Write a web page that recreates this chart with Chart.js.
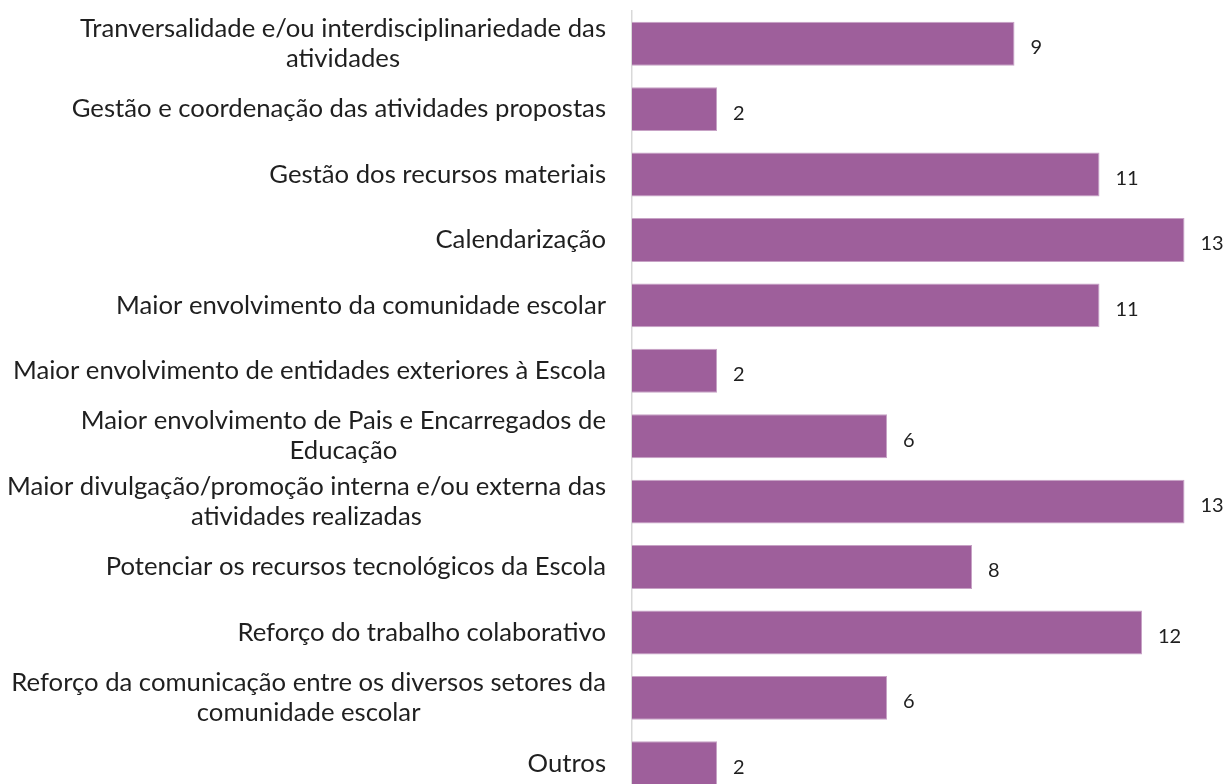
<!DOCTYPE html>
<html>
<head>
<meta charset="utf-8">
<script src="https://cdn.jsdelivr.net/npm/chart.js@4"></script>
<style>
  html, body { margin: 0; padding: 0; background: #fff; overflow: hidden; }
  #wrap { width: 1228px; height: 800px; }
</style>
</head>
<body>
<div id="wrap"><canvas id="chart"></canvas></div>
<script>
// categorias (de cima para baixo)
const categories = [
    ['Tranversalidade e/ou interdisciplinariedade das', 'atividades'],
    ['Gestão e coordenação das atividades propostas'],
    ['Gestão dos recursos materiais'],
    ['Calendarização'],
    ['Maior envolvimento da comunidade escolar'],
    ['Maior envolvimento de entidades exteriores à Escola'],
    ['Maior envolvimento de Pais e Encarregados de', 'Educação'],
    ['Maior divulgação/promoção interna e/ou externa das', 'atividades realizadas'],
    ['Potenciar os recursos tecnológicos da Escola'],
    ['Reforço do trabalho colaborativo'],
    ['Reforço da comunicação entre os diversos setores da', 'comunidade escolar'],
    ['Outros']
];
const counts = [9, 2, 11, 13, 11, 2, 6, 13, 8, 12, 6, 2];

const labelFont = '25.7px Lato';
const labelLineHeight = 30;

// rótulos do eixo, centrados linha a linha e alinhados à direita como bloco
const axisLabels = {
    id: 'axisLabels',
    afterDraw(chart) {
        const ctx = chart.ctx;
        const yScale = chart.scales.y;
        const rightEdge = yScale.right - 26;
        ctx.save();
        ctx.font = labelFont;
        ctx.fillStyle = '#1f1f1f';
        ctx.textAlign = 'center';
        ctx.textBaseline = 'middle';
        categories.forEach((lines, i) => {
            const y = yScale.getPixelForTick(i);
            const widest = Math.max(...lines.map(l => ctx.measureText(l).width));
            const cx = rightEdge - widest / 2;
            const top = y - (lines.length - 1) * labelLineHeight / 2;
            lines.forEach((l, j) => ctx.fillText(l, cx, top + j * labelLineHeight));
        });
        ctx.restore();
    }
};

// valores à direita das barras
const valueLabels = {
    id: 'valueLabels',
    afterDatasetsDraw(chart) {
        const ctx = chart.ctx;
        const meta = chart.getDatasetMeta(0);
        ctx.save();
        ctx.font = '20px Lato';
        ctx.fillStyle = '#1f1f1f';
        ctx.textAlign = 'left';
        ctx.textBaseline = 'middle';
        meta.data.forEach((bar, i) => {
            ctx.fillText(String(counts[i]), bar.x + 16, bar.y + 4);
        });
        ctx.restore();
    }
};

const ctx = document.getElementById('chart').getContext('2d');
new Chart(ctx, {
    type: 'bar',
    data: {
        labels: categories.map(l => l.join(' ')),
        datasets: [{
            data: counts,
            backgroundColor: '#9E5F9B',
            borderColor: '#C7A2C5',
            borderWidth: 1,
            categoryPercentage: 1,
            barPercentage: 0.672
        }]
    },
    options: {
        indexAxis: 'y',
        responsive: true,
        maintainAspectRatio: false,
        animation: false,
        layout: { padding: { top: 11, bottom: 4, left: 0, right: 1 } },
        plugins: {
            legend: { display: false },
            tooltip: { enabled: false }
        },
        scales: {
            x: {
                min: 0,
                max: 14,
                display: false
            },
            y: {
                grid: { display: false, drawTicks: false },
                border: { display: true, color: '#D9D9D9', width: 1.5 },
                ticks: { display: false },
                afterFit(scale) { scale.width = 632; }
            }
        }
    },
    plugins: [axisLabels, valueLabels]
});
</script>
</body>
</html>
